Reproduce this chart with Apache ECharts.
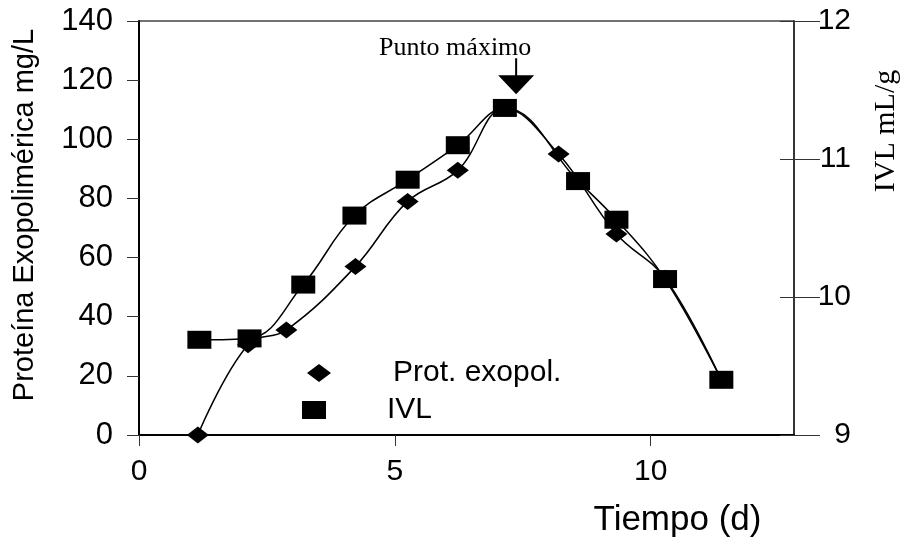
<!DOCTYPE html>
<html>
<head>
<meta charset="utf-8">
<script src="https://cdn.jsdelivr.net/npm/echarts@6/dist/echarts.min.js"></script>
<style>
  html, body { margin: 0; padding: 0; background: #fff; }
  #chart { width: 904px; height: 537px; }
</style>
</head>
<body>
<div id="chart"></div>
<script>
// Proteína exopolimérica (mg/L), eje izquierdo
var protDays = [1.15, 2.13, 2.88, 4.23, 5.25, 6.23, 7.15, 8.2, 9.33, 10.28, 11.38];
var protValues = [0, 30.5, 35.5, 57, 79, 89.5, 110.5, 95, 68, 53, 18.6];

// IVL (mL/g), eje derecho
var ivlDays = [1.18, 2.16, 3.21, 4.21, 5.25, 6.23, 7.15, 8.58, 9.33, 10.28, 11.38];
var ivlValues = [9.69, 9.7, 10.09, 10.59, 10.85, 11.1, 11.37, 10.84, 10.56, 10.13, 9.4];

var xTicks = [0, 5, 10];
var peakMark = [7.37, 11.6];

var SANS = '"Liberation Sans", Arial, sans-serif';
var SERIF = '"Liberation Serif", "Times New Roman", serif';

function pairs(xs, ys) {
  return xs.map(function (x, i) { return [x, ys[i]]; });
}

var chart = echarts.init(document.getElementById('chart'), null, { renderer: 'canvas' });
chart.setOption({
  animation: false,
  backgroundColor: '#fff',
  grid: {
    left: 139,
    right: 110,
    top: 21,
    bottom: 102,
    containLabel: false,
    outerBoundsMode: 'none',
    show: true,
    borderColor: '#444',
    borderWidth: 1.5
  },
  legend: [
    {
      left: 307,
      top: 358,
      padding: 0,
      itemWidth: 24,
      itemHeight: 18,
      data: [{ name: 'Prot. exopol.', icon: 'diamond' }],
      textStyle: { fontFamily: SANS, fontSize: 30, color: '#000', lineHeight: 30, padding: [0, 0, 0, 57] }
    },
    {
      left: 302,
      top: 395,
      padding: 0,
      itemWidth: 24,
      itemHeight: 18,
      data: [{ name: 'IVL', icon: 'rect' }],
      textStyle: { fontFamily: SANS, fontSize: 30, color: '#000', lineHeight: 30, padding: [0, 0, 0, 56] }
    }
  ],
  xAxis: {
    type: 'value',
    min: 0,
    max: 12.8,
    interval: 5,
    name: 'Tiempo (d)',
    nameLocation: 'middle',
    nameGap: 68,
    nameTextStyle: { fontFamily: SANS, fontSize: 35, color: '#000', padding: [0, 0, 0, 422] },
    splitLine: { show: false },
    axisLine: { lineStyle: { color: '#000', width: 2 } },
    axisTick: { length: 11, lineStyle: { color: '#333', width: 1 } },
    axisLabel: {
      margin: 22,
      fontFamily: SANS,
      fontSize: 30,
      color: '#000',
      showMaxLabel: false,
      formatter: function (v) { return xTicks.indexOf(v) >= 0 ? String(v) : ''; }
    }
  },
  yAxis: [
    {
      type: 'value',
      min: 0,
      max: 140,
      interval: 20,
      position: 'left',
      name: 'Proteína Exopolimérica mg/L',
      nameLocation: 'middle',
      nameRotate: 90,
      nameGap: 100,
      nameTextStyle: { fontFamily: SANS, fontSize: 29, color: '#000', padding: [0, 0, 0, 26] },
      splitLine: { show: false },
      axisLine: { show: true, lineStyle: { color: '#000', width: 2 } },
      axisTick: { length: 12, lineStyle: { color: '#333', width: 1 } },
      axisLabel: { margin: 26, fontFamily: SANS, fontSize: 31, color: '#000' }
    },
    {
      type: 'value',
      min: 9,
      max: 12,
      interval: 1,
      position: 'right',
      name: 'IVL mL/g',
      nameLocation: 'middle',
      nameRotate: 90,
      nameGap: 77,
      nameTextStyle: { fontFamily: SERIF, fontSize: 30, color: '#000', padding: [0, 0, 0, 194] },
      splitLine: { show: false },
      axisLine: { show: true, lineStyle: { color: '#222', width: 1.5 } },
      axisTick: { length: 26, lineStyle: { color: '#333', width: 1 } },
      axisLabel: { margin: 57, align: 'right', fontFamily: SANS, fontSize: 30, color: '#000' }
    },
    {
      // inner ticks of the right axis
      type: 'value',
      min: 9,
      max: 12,
      interval: 1,
      position: 'right',
      splitLine: { show: false },
      axisLine: { show: false },
      axisTick: { inside: true, length: 14, lineStyle: { color: '#333', width: 1 } },
      axisLabel: { show: false }
    }
  ],
  series: [
    {
      name: 'Prot. exopol.',
      type: 'line',
      yAxisIndex: 0,
      data: pairs(protDays, protValues),
      smooth: 0.4,
      symbol: 'diamond',
      symbolSize: [22, 17],
      showAllSymbol: true,
      itemStyle: { color: '#000' },
      lineStyle: { color: '#000', width: 1.5 }
    },
    {
      name: 'IVL',
      type: 'line',
      yAxisIndex: 1,
      data: pairs(ivlDays, ivlValues),
      smooth: 0.4,
      symbol: 'rect',
      symbolSize: [24, 18],
      showAllSymbol: true,
      itemStyle: { color: '#000' },
      lineStyle: { color: '#000', width: 1.5 },
      markPoint: {
        symbol: 'path://M17 0L19 0L19 17L36 17L18 36L0 17L17 17Z',
        symbolSize: [36, 36],
        itemStyle: { color: '#000' },
        label: {
          show: true,
          position: 'top',
          distance: 2,
          offset: [-61, 5],
          formatter: 'Punto máximo',
          fontFamily: SERIF,
          fontSize: 26,
          color: '#000'
        },
        data: [{ coord: peakMark }]
      }
    }
  ]
});
</script>
</body>
</html>
